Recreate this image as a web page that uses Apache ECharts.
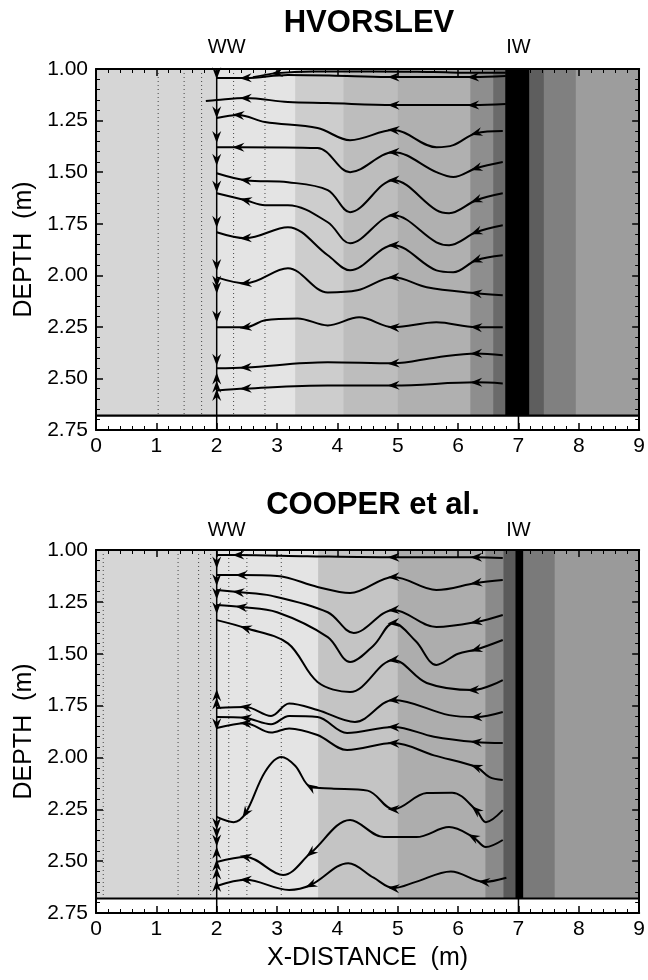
<!DOCTYPE html>
<html><head><meta charset="utf-8">
<script src="https://cdn.jsdelivr.net/npm/echarts@6/dist/echarts.min.js"></script>
<style>html,body{margin:0;padding:0;background:#fff}#c{width:648px;height:980px}</style>
</head><body><div id="c"></div>
<script>
// ---------- axes ----------
const X_MIN = 0, X_MAX = 9, X_STEP = 1;
const D_MIN = 1.0, D_MAX = 2.75, D_STEP = 0.25;
const WW_X = 2, IW_X = 7, BASE_DEPTH = 2.68;

// ---------- background contour bands (x edges, grey fill) ----------
const HV_BAND_EDGES = [0, 2, 3.3, 4.1, 5.0, 6.2, 6.58, 6.78, 7.18, 7.42, 7.95, 9];
const HV_BAND_GRAYS = ['#d6d6d6','#e4e4e4','#cdcdcd','#bdbdbd','#b0b0b0','#8e8e8e','#6a6a6a','#000000','#5e5e5e','#808080','#9d9d9d'];
const CO_BAND_EDGES = [0, 2, 3.68, 5.0, 6.45, 6.75, 6.95, 7.08, 7.6, 9];
const CO_BAND_GRAYS = ['#d6d6d6','#e4e4e4','#c4c4c4','#adadad','#8a8a8a','#5a5a5a','#000000','#7a7a7a','#9a9a9a'];
const HV_DOTTED = [1.03, 1.46, 1.75, 2.28, 2.80];
const CO_DOTTED = [0.12, 1.36, 1.70, 1.90, 2.20, 2.50, 3.07];

// ---------- HVORSLEV streamlines [x, depth] ----------
const HV_A  = [[2.00,1.044],[2.48,1.044],[3.18,1.029],[4.16,1.034],[4.93,1.039],[5.92,1.039],[6.25,1.039],[6.79,1.034]];
const HV_A2 = [[2.60,1.040],[3.00,1.020],[3.60,1.012],[4.60,1.012],[5.60,1.015],[6.30,1.018],[6.79,1.018]];
const HV_B  = [[1.82,1.155],[2.00,1.150],[2.48,1.141],[3.18,1.160],[3.84,1.165],[4.93,1.175],[5.92,1.175],[6.25,1.175],[6.79,1.170]];
const HV_C  = [[2.00,1.238],[2.36,1.223],[2.80,1.257],[3.67,1.286],[4.21,1.345],[4.93,1.296],[5.64,1.379],[5.92,1.369],[6.30,1.311],[6.74,1.301]];
const HV_D  = [[2.00,1.379],[2.36,1.379],[3.67,1.383],[4.21,1.500],[4.93,1.403],[5.64,1.500],[5.92,1.524],[6.30,1.481],[6.74,1.451]];
const HV_E  = [[2.00,1.505],[2.48,1.539],[3.18,1.549],[3.84,1.587],[4.21,1.694],[4.93,1.539],[5.64,1.684],[5.85,1.699],[6.30,1.636],[6.74,1.602]];
const HV_F  = [[2.00,1.602],[2.48,1.636],[2.80,1.660],[3.18,1.660],[3.84,1.743],[4.21,1.845],[4.93,1.709],[5.64,1.840],[5.85,1.854],[6.30,1.791],[6.74,1.757]];
const HV_G  = [[2.00,1.791],[2.48,1.820],[3.18,1.767],[3.84,1.903],[4.21,1.976],[4.93,1.854],[5.64,1.976],[5.92,1.985],[6.30,1.927],[6.74,1.903]];
const HV_H  = [[2.00,2.010],[2.48,2.039],[3.18,1.966],[3.84,2.083],[4.33,2.073],[4.93,2.010],[5.48,2.058],[6.30,2.087],[6.74,2.097]];
const HV_I  = [[2.00,2.252],[2.48,2.252],[2.80,2.218],[3.34,2.209],[3.84,2.243],[4.36,2.204],[4.93,2.252],[5.64,2.228],[6.30,2.252],[6.74,2.252]];
const HV_J  = [[2.00,2.451],[2.48,2.447],[3.84,2.422],[4.93,2.427],[5.64,2.398],[6.30,2.379],[6.74,2.388]];
const HV_K  = [[2.00,2.558],[2.48,2.549],[3.84,2.534],[4.93,2.534],[6.30,2.519],[6.74,2.524]];
const HV_ROWS = [HV_A, HV_A2, HV_B, HV_C, HV_D, HV_E, HV_F, HV_G, HV_H, HV_I, HV_J, HV_K];
const HV_ARROW_X = [[2.48,4.93,6.25],[3.00],[2.48,4.93,6.25],[2.36,4.93,6.30],[2.36,4.93,6.30],[2.48,4.93,6.30],
  [2.48,4.93,6.30],[2.48,4.93,6.30],[2.48,4.93,6.30],[2.48,4.93,6.30],[2.48,4.93,6.30],[2.48,4.93,6.30]];
const HV_WW_DOWN = [1.02, 1.21, 1.33, 1.44, 1.57, 1.74, 1.95, 2.03, 2.06, 2.20, 2.41];
const HV_WW_UP = [2.50, 2.54, 2.58];

// ---------- COOPER et al. streamlines [x, depth] ----------
const CO_1  = [[2.00,1.024],[2.36,1.024],[3.50,1.030],[4.93,1.035],[5.90,1.035],[6.30,1.035],[6.74,1.039]];
const CO_2  = [[2.00,1.121],[2.41,1.121],[3.00,1.125],[3.67,1.178],[4.21,1.207],[4.93,1.130],[5.64,1.193],[6.30,1.159],[6.74,1.145]];
const CO_3  = [[2.00,1.193],[2.36,1.203],[2.90,1.220],[3.84,1.300],[4.27,1.400],[4.93,1.289],[5.64,1.371],[6.30,1.347],[6.74,1.313]];
const CO_4  = [[2.00,1.265],[2.41,1.275],[3.00,1.300],[3.84,1.420],[4.21,1.540],[4.60,1.460],[4.93,1.352],[5.30,1.440],[5.64,1.554],[6.00,1.500],[6.30,1.480],[6.74,1.434]];
const CO_5  = [[2.00,1.338],[2.48,1.376],[3.18,1.450],[3.67,1.636],[4.21,1.685],[4.93,1.530],[5.48,1.641],[6.25,1.675],[6.74,1.627]];
const CO_6  = [[2.00,1.762],[2.48,1.757],[2.90,1.800],[3.20,1.740],[3.67,1.771],[4.29,1.829],[4.93,1.723],[5.85,1.796],[6.30,1.805],[6.74,1.781]];
const CO_7  = [[2.00,1.805],[2.48,1.810],[2.90,1.840],[3.20,1.800],[3.67,1.805],[4.16,1.882],[4.93,1.853],[5.60,1.900],[6.30,1.926],[6.74,1.931]];
const CO_8  = [[2.00,1.858],[2.48,1.835],[2.90,1.880],[3.20,1.860],[3.67,1.892],[4.16,1.964],[4.93,1.931],[5.60,1.990],[6.30,2.046],[6.52,2.095],[6.74,2.109]];
const CO_9  = [[2.00,2.287],[2.28,2.312],[2.48,2.268],[2.80,2.070],[3.07,1.998],[3.30,2.040],[3.56,2.143],[3.90,2.150],[4.50,2.160],[4.93,2.250],[5.48,2.172],[5.90,2.170],[6.30,2.254],[6.46,2.312],[6.74,2.254]];
const CO_10 = [[2.00,2.504],[2.48,2.480],[3.10,2.567],[3.56,2.460],[4.21,2.302],[4.77,2.384],[5.31,2.384],[5.85,2.336],[6.25,2.384],[6.46,2.432],[6.74,2.398]];
const CO_11 = [[2.00,2.620],[2.48,2.590],[3.20,2.639],[3.56,2.615],[4.18,2.510],[4.60,2.580],[4.93,2.630],[5.30,2.600],[5.88,2.550],[6.43,2.600],[6.80,2.580]];
const CO_ROWS = [CO_1, CO_2, CO_3, CO_4, CO_5, CO_6, CO_7, CO_8, CO_9, CO_10, CO_11];
const CO_ARROW_X = [[2.36,4.93,6.30],[2.41,4.93,6.30],[2.36,4.93,6.30],[2.41,4.93,6.30],[2.48,4.93,6.25],[2.48,4.93,6.30],
  [2.48,4.93,6.30],[2.48,4.93,6.30],[2.48,3.56,4.93,6.30],[2.48,3.56,6.25],[2.48,3.56,4.93,6.43]];
const CO_WW_DOWN = [1.06, 1.145, 1.21, 1.28, 1.84, 2.32, 2.36, 2.40];
const CO_WW_UP = [1.70, 1.74, 2.46, 2.52, 2.56, 2.62];

// ---------- build ----------
const FONT = '"Liberation Sans", Arial, Helvetica, sans-serif';
const ARROW = 'path://M0,5L12,0L8,5L12,10Z';
const chart = echarts.init(document.getElementById('c'));
const GRIDS = [{left:96, top:69, width:549, height:361}, {left:96, top:550, width:549, height:363}];

function xAxisFor(g, pos) {
  const bottom = pos === 'bottom';
  return {
    gridIndex:g, type:'value', position:pos, min:X_MIN, max:X_MAX, interval:X_STEP, z:10,
    axisLine:{show:true, onZero:false, lineStyle:{color:'#000', width:2}},
    axisTick:{show:true, inside:true, length:7, lineStyle:{color:'#000', width:1.5}},
    minorTick:{show:true, splitNumber:5, length:4, lineStyle:{color:'#000', width:1}},
    axisLabel:{show:bottom, color:'#000', fontSize:21, fontFamily:FONT, margin:6},
    splitLine:{show:false},
    name: (bottom && g === 1) ? 'X-DISTANCE  (m)' : '', nameLocation:'middle', nameGap:33,
    nameTextStyle:{color:'#000', fontSize:25, fontFamily:FONT}
  };
}
function yAxisFor(g, pos) {
  const left = pos === 'left';
  return {
    gridIndex:g, type:'value', position:pos, inverse:true, min:D_MIN, max:D_MAX, interval:D_STEP, z:10,
    axisLine:{show:true, onZero:false, lineStyle:{color:'#000', width:2}},
    axisTick:{show:true, inside:true, length:7, lineStyle:{color:'#000', width:1.5}},
    minorTick:{show:true, splitNumber:5, length:4, lineStyle:{color:'#000', width:1}},
    axisLabel:{show:left, color:'#000', fontSize:21, fontFamily:FONT, margin:8, showMinLabel:true, showMaxLabel:true,
      formatter: v => v.toFixed(2)},
    splitLine:{show:false},
    name: left ? 'DEPTH  (m)' : '', nameLocation:'middle', nameGap:58,
    nameTextStyle:{color:'#000', fontSize:25, fontFamily:FONT}
  };
}

function panelSeries(g, edges, grays, dotted, rows) {
  const ax = {xAxisIndex:2*g, yAxisIndex:2*g};
  const s = [];
  const bands = [];
  for (let i = 0; i < grays.length; i++) bands.push([edges[i], edges[i+1], i]);
  s.push(Object.assign({
    type:'custom', z:1, silent:true, data:bands, encode:{x:[0,1]},
    renderItem:(params, api) => {
      const p0 = api.coord([api.value(0), D_MIN]);
      const p1 = api.coord([api.value(1), BASE_DEPTH]);
      return {type:'rect', shape:{x:p0[0], y:p0[1], width:p1[0]-p0[0]+0.5, height:p1[1]-p0[1]},
        style:{fill:grays[api.value(2)]}};
    }
  }, ax));
  dotted.forEach(x => s.push(Object.assign({type:'line', z:2, silent:true, symbol:'none', data:[[x,D_MIN],[x,BASE_DEPTH]],
    lineStyle:{color:'#444', width:1, type:[1,3]}}, ax)));
  // frame lines: base, WW, IW
  s.push(Object.assign({type:'line', z:3, silent:true, symbol:'none', data:[[X_MIN,BASE_DEPTH],[X_MAX,BASE_DEPTH]], lineStyle:{color:'#000', width:2.2}}, ax));
  s.push(Object.assign({type:'line', z:3, silent:true, symbol:'none', data:[[WW_X,D_MIN],[WW_X,D_MAX]], lineStyle:{color:'#000', width:1.5}}, ax));
  s.push(Object.assign({type:'line', z:3, silent:true, symbol:'none', data:[[IW_X,D_MIN],[IW_X,D_MAX]], lineStyle:{color:'#000', width:1.5}}, ax));
  rows.forEach(r => s.push(Object.assign({type:'line', z:4, silent:true, symbol:'none', smooth:0.35, data:r,
    lineStyle:{color:'#000', width:2}}, ax)));
  s.push(Object.assign({id:'arrows'+g, type:'scatter', z:6, silent:true, symbol:ARROW, symbolSize:[12,9],
    itemStyle:{color:'#000', opacity:1}, data:[]}, ax));
  return s;
}

const option = {
  animation:false, backgroundColor:'#fff',
  grid: GRIDS,
  xAxis:[xAxisFor(0,'bottom'), xAxisFor(0,'top'), xAxisFor(1,'bottom'), xAxisFor(1,'top')],
  yAxis:[yAxisFor(0,'left'), yAxisFor(0,'right'), yAxisFor(1,'left'), yAxisFor(1,'right')],
  series:[].concat(
    panelSeries(0, HV_BAND_EDGES, HV_BAND_GRAYS, HV_DOTTED, HV_ROWS),
    panelSeries(1, CO_BAND_EDGES, CO_BAND_GRAYS, CO_DOTTED, CO_ROWS))
};
chart.setOption(option);

function arrowItems(g, rows, arrowXs, down, up) {
  const f = {xAxisIndex:2*g, yAxisIndex:2*g};
  const items = [];
  rows.forEach((row, i) => {
    (arrowXs[i] || []).forEach(ax => {
      let k = 0, best = Infinity;
      row.forEach((p, j) => { const dd = Math.abs(p[0]-ax); if (dd < best) { best = dd; k = j; } });
      const prev = row[Math.max(0, k-1)], next = row[Math.min(row.length-1, k+1)];
      const pp = chart.convertToPixel(f, prev), pn = chart.convertToPixel(f, next);
      const dx = pp[0]-pn[0], dy = pp[1]-pn[1];
      const rot = Math.atan2(-dy, dx) * 180 / Math.PI - 180;
      items.push({value:row[k], symbolRotate:rot});
    });
  });
  down.forEach(d => items.push({value:[WW_X, d], symbolRotate:90}));
  up.forEach(d => items.push({value:[WW_X, d], symbolRotate:-90}));
  return items;
}
chart.setOption({series:[
  {id:'arrows0', data:arrowItems(0, HV_ROWS, HV_ARROW_X, HV_WW_DOWN, HV_WW_UP)},
  {id:'arrows1', data:arrowItems(1, CO_ROWS, CO_ARROW_X, CO_WW_DOWN, CO_WW_UP)}
]});

// labels
const wwT = chart.convertToPixel({xAxisIndex:0, yAxisIndex:0}, [WW_X, D_MIN]);
const iwT = chart.convertToPixel({xAxisIndex:0, yAxisIndex:0}, [IW_X, D_MIN]);
const wwB = chart.convertToPixel({xAxisIndex:2, yAxisIndex:2}, [WW_X, D_MIN]);
const iwB = chart.convertToPixel({xAxisIndex:2, yAxisIndex:2}, [IW_X, D_MIN]);
function txt(text, x, y, font) {
  return {type:'text', x:x, y:y, z:20, style:{text:text, font:font, fill:'#000', align:'center', verticalAlign:'middle'}};
}
chart.setOption({graphic:[
  txt('HVORSLEV', 369, 23, 'bold 31px ' + FONT),
  txt('COOPER et al.', 373, 505, 'bold 31px ' + FONT),
  txt('WW', wwT[0]+10, wwT[1]-22, '20px ' + FONT),
  txt('IW', iwT[0], iwT[1]-22, '20px ' + FONT),
  txt('WW', wwB[0]+10, wwB[1]-20, '20px ' + FONT),
  txt('IW', iwB[0], iwB[1]-20, '20px ' + FONT)
]});
</script></body></html>
